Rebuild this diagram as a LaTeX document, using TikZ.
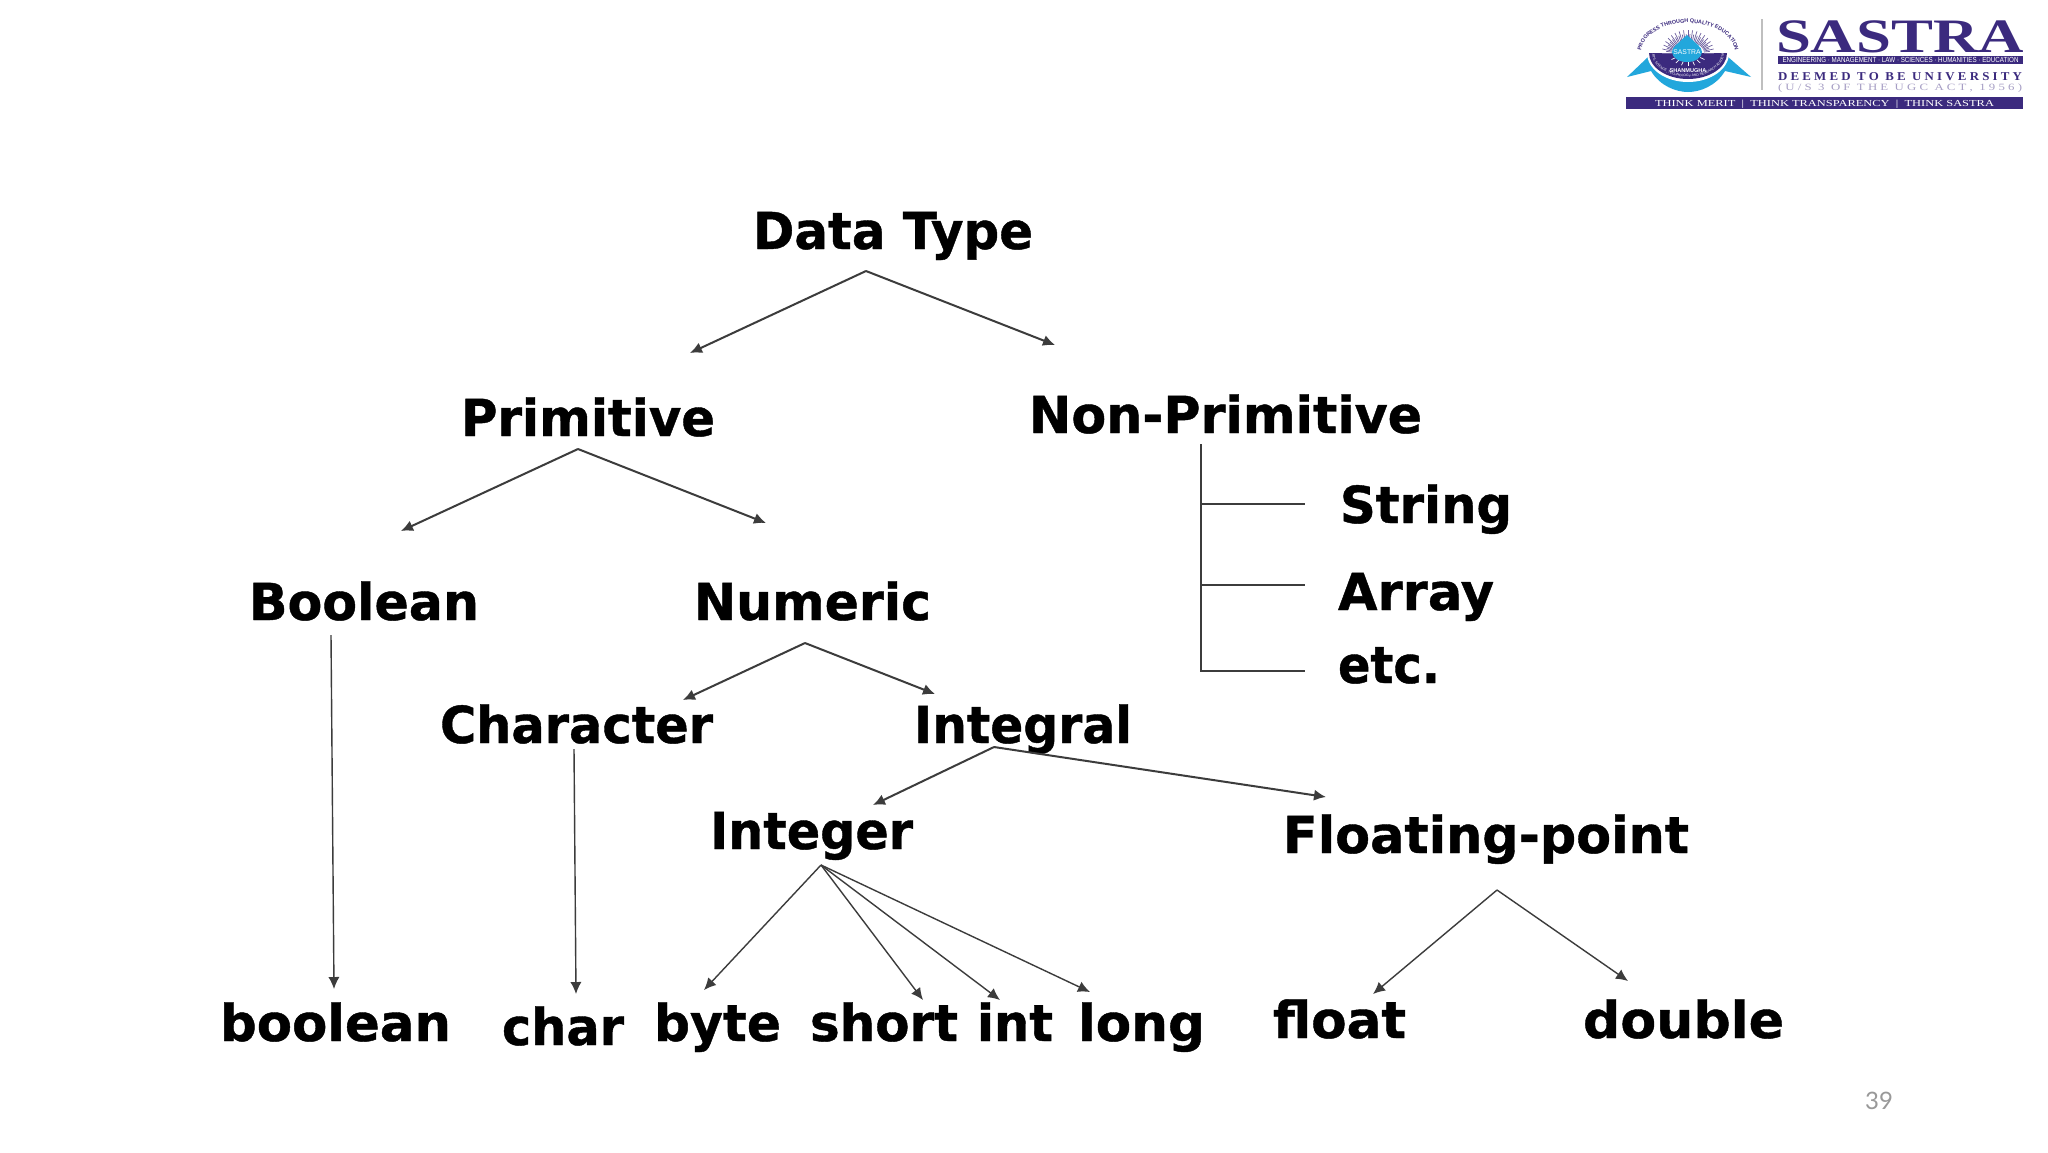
\documentclass[tikz,border=0pt]{standalone}
\usepackage{fontspec}
\usepackage{graphicx}
\setmainfont{DejaVu Sans}[BoldFeatures={FakeBold=0.8}]
\newfontfamily\logoserif{Liberation Serif}
\newfontfamily\logosans{Liberation Sans}
\newfontfamily\pagefont{Lato}
\usetikzlibrary{positioning,calc}
\usetikzlibrary{arrows.meta}
\usetikzlibrary{decorations.text}
\definecolor{sastrapurple}{HTML}{3B2A7E}
\definecolor{sastracyan}{HTML}{22A7DC}
\definecolor{linegray}{HTML}{3C3C3C}
\newcommand{\fitlab}[2]{\resizebox{\dimexpr#1pt+2pt\relax}{\height}{#2}}
\tikzset{
   lbl/.style={font=\fontsize{25.5}{28}\selectfont\bfseries, text=black, inner sep=0pt,
      text height=19pt, text depth=6pt, on grid},
   arr/.style={draw=linegray, line width=1pt, -{Latex[length=6pt,width=5.6pt]}},
   arrthin/.style={arr, line width=0.7pt},
   branchline/.style={draw=linegray, line width=0.9pt},
   logotxt/.style={inner sep=0pt, text=sastrapurple, anchor=base}
}

\begin{document}
\begin{tikzpicture}[x=0.5pt,y=-0.5pt]
   \fill[white] (0,0) rectangle (2048,1152);
   \useasboundingbox (0,0) rectangle (2048,1152);

   % top of the tree
   \node[lbl] (datatype) at (893,236) {\fitlab{138}{Data Type}};
   \node[lbl, below left=93.5pt and 152.5pt of datatype]  (primitive) {\fitlab{125}{Primitive}};
   \node[lbl, below right=92pt and 166.25pt of datatype]  (nonprim) {\fitlab{194.5}{Non-Primitive}};

   % primitive side
   \node[lbl, below left=92pt and 112pt of primitive]     (boolcat) {\fitlab{113}{Boolean}};
   \node[lbl, below right=92pt and 112.25pt of primitive] (numeric) {\fitlab{116.5}{Numeric}};
   \node[lbl, below left=61.5pt and 118pt of numeric]     (character) {\fitlab{134.5}{Character}};
   \node[lbl, below right=61.5pt and 105.25pt of numeric] (integral) {\fitlab{107}{Integral}};
   \node[lbl, below left=53pt and 105.75pt of integral]   (integer) {\fitlab{99.5}{Integer}};
   \node[lbl, below right=55pt and 231.5pt of integral]   (floating) {\fitlab{201}{Floating-point}};

   % keywords on the bottom row
   \node[lbl, below left=210.5pt and 14.25pt of boolcat]  (kwboolean) {\fitlab{113.5}{boolean}};
   \node[lbl, below left=151pt and 6.75pt of character]   (kwchar) {\fitlab{59}{char}};
   \node[lbl, below left=96pt and 47pt of integer]        (kwbyte) {\fitlab{61.5}{byte}};
   \node[lbl, below right=96pt and 36.25pt of integer]    (kwshort) {\fitlab{72}{short}};
   \node[lbl, below right=96pt and 101.75pt of integer]   (kwint) {\fitlab{36}{int}};
   \node[lbl, below right=96pt and 165pt of integer]      (kwlong) {\fitlab{61.5}{long}};
   \node[lbl, below left=92.5pt and 73.25pt of floating]  (kwfloat) {\fitlab{64.5}{float}};
   \node[lbl, below right=92.5pt and 98.75pt of floating] (kwdouble) {\fitlab{98.5}{double}};

   % non-primitive side
   \node[lbl, below right=45pt and 100.25pt of nonprim]   (string) {\fitlab{84}{String}};
   \node[lbl, below left=43.5pt and 5pt of string]        (array) {\fitlab{76}{Array}};
   \node[lbl, below left=36.5pt and 13.5pt of array]      (etcetera) {\fitlab{49}{etc.}};

   % arrows
   \draw[arr] ($(datatype)+(-27,35)$) -- ($(primitive)+(102,-70)$);
   \draw[arr] ($(datatype)+(-27,35)$) -- ($(nonprim)+(-170.5,-75)$);
   \draw[arr] ($(primitive)+(-10,26)$) -- ($(boolcat)+(37,-76)$);
   \draw[arr] ($(primitive)+(-10,26)$) -- ($(numeric)+(-46.5,-84)$);
   \draw[arr] ($(numeric)+(-7.5,36)$) -- ($(character)+(106.5,-30)$);
   \draw[arr] ($(numeric)+(-7.5,36)$) -- ($(integral)+(-88,-36)$);
   \draw[arrthin] ($(boolcat)+(-33,28)$) -- ($(kwboolean)+(-1.5,-39)$);
   \draw[arrthin] ($(character)+(-2.5,19)$) -- ($(kwchar)+(13,-38)$);
   \draw[arr] ($(integral)+(-29,17)$) -- ($(integer)+(61.5,-31)$);
   \draw[arr] ($(integral)+(-29,17)$) -- ($(floating)+(-160,-43)$);
   \foreach \kw/\dx/\dy in {kwbyte/-13.5/-38, kwshort/39/-28, kwint/-15/-28, kwlong/-51.5/-36}
      \draw[arrthin] ($(integer)+(9.5,29)$) -- ($(\kw)+(\dx,\dy)$);
   \draw[arrthin] ($(floating)+(11,50)$) -- ($(kwfloat)+(33.5,-31)$);
   \draw[arrthin] ($(floating)+(11,50)$) -- ($(kwdouble)+(-55.5,-44)$);

   % plain lines under non-primitive
   \draw[branchline] ($(nonprim)+(-24.5,24)$) |- ($(etcetera)+(-84,1)$);
   \draw[branchline] ($(nonprim)+(-24.5,84)$) -- ($(string)+(-121,-6)$);
   \draw[branchline] ($(nonprim)+(-24.5,165)$) -- ($(array)+(-111,-12)$);

   % page number
   \node[inner sep=0pt, anchor=base, text=gray!80, font=\pagefont\fontsize{12}{14}\selectfont] (pagenum) at (1879,1109) {39};

   % logo, right part
   \draw[gray!50, line width=0.8pt] (1762,19) -- (1762,90);
   \node[logotxt, font=\logoserif\fontsize{24}{24}\selectfont\bfseries] (logoname) at (1900,52) {\fitlab{122}{SASTRA}};
   \fill[sastrapurple] (1778,56) rectangle (2023,64);
   \node[inner sep=0pt, anchor=base, text=white, font=\logosans\fontsize{3.7}{4}\selectfont] (logostrip) at (1900.5,62.5)
      {\fitlab{116}{ENGINEERING · MANAGEMENT · LAW · SCIENCES · HUMANITIES · EDUCATION}};
   \node[logotxt, font=\logoserif\fontsize{6}{6}\selectfont\bfseries] (logodeemed) at (1900,80)
      {\fitlab{120}{D E E M E D\ \ T O\ \ B E\ \ U N I V E R S I T Y}};
   \node[logotxt, text=sastrapurple!45, font=\logoserif\fontsize{4.8}{5}\selectfont] (logoact) at (1900,90)
      {\fitlab{120}{( U / S\ \ 3\ \ O F\ \ T H E\ \ U G C\ \ A C T ,\ \ 1 9 5 6 )}};
   \fill[sastrapurple] (1626,97) rectangle (2023,109);
   \node[inner sep=0pt, anchor=base, text=white, font=\logoserif\fontsize{4.6}{5}\selectfont] (logomotto) at (1824.5,106)
      {\fitlab{167.5}{THINK MERIT\ \ |\ \ THINK TRANSPARENCY\ \ |\ \ THINK SASTRA}};

   % logo, emblem
   \fill[sastracyan] (1648,57) -- (1627,77) -- (1651,71) .. controls (1660,86) and (1676,92) .. (1688,92)
      .. controls (1700,92) and (1716,86) .. (1725,71) -- (1751,77) -- (1728,57) -- cycle;
   \fill[white] (1647,53) arc[start angle=180, end angle=0, x radius=41, y radius=29] -- cycle;
   \fill[sastrapurple] (1649,53) arc[start angle=180, end angle=0, x radius=39, y radius=26] -- cycle;
   \foreach \ang in {180,190,...,360}
      \draw[sastrapurple!75, line width=0.35pt] (1688,53) ++(\ang:16 and 11) -- ++(\ang:10 and 12);
   \foreach \ang in {185,195,...,355}
      \draw[sastrapurple!75, line width=0.35pt] (1688,53) ++(\ang:16 and 11) -- ++(\ang:6 and 8);
   \foreach \ang in {30,50,...,150}
      \draw[white, line width=0.35pt] (1688,53) ++(\ang:14 and 9) -- ++(\ang:5 and 4);
   \fill[sastracyan] (1687,52) ellipse[x radius=15, y radius=10];
   \fill[sastracyan] (1687,35) -- (1675,46) -- (1699,46) -- cycle;
   \node[inner sep=0pt, text=white, font=\logosans\fontsize{3.4}{4}\selectfont] (logodrop) at (1687,52) {SASTRA};
   \node[inner sep=0pt, text=white, font=\logosans\fontsize{2.8}{3}\selectfont\bfseries] (logoshan) at (1688,70.5) {SHANMUGHA};
   \path[decorate, decoration={text along path, text align=center,
      text={|\logosans\fontsize{2.7}{3}\selectfont\bfseries\color{sastrapurple}|PROGRESS THROUGH QUALITY EDUCATION}}]
      (1641.5,57) arc[start angle=172, end angle=368, x radius=47, y radius=30];
   \path[decorate, decoration={text along path, text align=center,
      text={|\logosans\fontsize{1.7}{2}\selectfont\color{white}|ARTS, SCIENCE, TECHNOLOGY AND RESEARCH ACADEMY}}]
      (1652,53) arc[start angle=180, end angle=0, x radius=36, y radius=24];
\end{tikzpicture}
\end{document}
